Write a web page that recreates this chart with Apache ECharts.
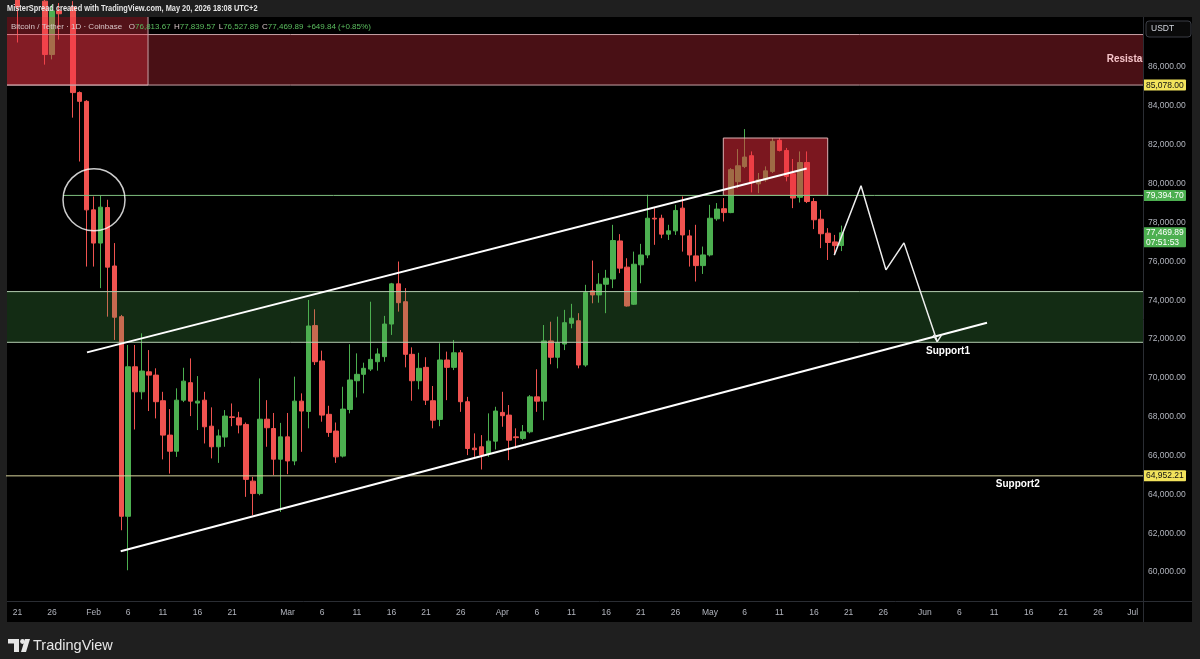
<!DOCTYPE html>
<html><head><meta charset="utf-8">
<script src="https://cdn.jsdelivr.net/npm/echarts@6/dist/echarts.min.js"></script>
<style>html,body{margin:0;padding:0;background:#1e1e1e;}#c{width:1200px;height:659px;}</style>
</head><body><div id="c"></div>
<script>
// ---------- DATA ----------
const axisStart = '2026-01-20';
const axisEnd = '2026-07-02';
const monthNames = ['Jan','Feb','Mar','Apr','May','Jun','Jul'];
const tickDays = [1, 6, 11, 16, 21, 26];
const yTicks = [60000,62000,64000,66000,68000,70000,72000,74000,76000,78000,80000,82000,84000,86000];

// [date(MM-DD), open, high, low, close]
const candles = [
 ['01-21',89500,89900,87270,89100],['01-22',89100,90200,88800,89700],['01-23',89700,90100,88900,89300],
 ['01-24',89300,89800,88800,89400],['01-25',89400,89700,86130,86650],['01-26',86650,89200,86400,88900],
 ['01-27',88900,89300,87420,88750],['01-28',88750,89400,88650,89100],['01-29',89100,89400,83400,84690],
 ['01-30',84690,84750,81140,84240],['01-31',84240,84300,75730,78650],
 ['02-01',78650,79340,75730,76940],['02-02',76940,79390,74620,78790],['02-03',78770,79170,73150,75700],
 ['02-04',75760,76940,71950,73120],['02-05',73150,73240,62150,62870],['02-06',62870,71690,60090,70570],
 ['02-07',70570,71690,67340,69280],['02-08',69280,72290,68890,70350],['02-09',70310,71430,68290,70140],
 ['02-10',70140,70490,67910,68770],['02-11',68820,69280,65800,67050],['02-12',67050,68390,65070,66220],
 ['02-13',66220,69460,65930,68850],['02-14',68850,70520,68750,69830],['02-15',69750,71000,68030,68800],
 ['02-16',68700,70090,67310,68800],['02-17',68850,69280,66620,67480],['02-18',67510,68480,65850,66450],
 ['02-19',66450,67340,65620,67010],['02-20',66950,68340,66450,68030],['02-21',67990,68680,67510,67960],
 ['02-22',67940,68250,67140,67570],['02-23',67600,67700,63870,64770],['02-24',64680,64900,62920,64040],
 ['02-25',64040,69970,63950,67870],['02-26',67870,68850,66450,67430],['02-27',67390,68190,64990,65810],
 ['02-28',65810,67680,63090,66960],
 ['03-01',66960,68190,65040,65720],['03-02',65720,70060,65500,68800],['03-03',68800,69200,66190,68290],
 ['03-04',68270,74010,67400,72670],['03-05',72690,73530,70660,70830],['03-06',70870,71400,67740,68080],
 ['03-07',68120,68560,66960,67190],['03-08',67260,67700,65620,65930],['03-09',65970,69540,65900,68390],
 ['03-10',68370,71730,68170,69890],['03-11',69850,71260,68990,70180],['03-12',70180,70780,69200,70490],
 ['03-13',70450,73920,70350,70950],['03-14',70830,71520,70370,71230],['03-15',71090,73190,70830,72770],
 ['03-16',72770,74890,72210,74840],['03-17',74840,75990,73410,73870],['03-18',73920,74620,70540,71210],
 ['03-19',71210,71570,68820,69850],['03-20',69850,71290,69410,70490],['03-21',70540,71060,68600,68850],
 ['03-22',68820,69580,67400,67820],['03-23',67860,71780,67510,70920],['03-24',70920,71350,68850,70540],
 ['03-25',70540,71950,70400,71290],['03-26',71290,71430,68250,68770],['03-27',68770,69020,66020,66360],
 ['03-28',66380,67140,65930,66300],['03-29',66450,67050,65280,66020],['03-30',66100,68170,65930,66740],
 ['03-31',66740,68510,66310,68290],
 ['04-01',68220,69280,67480,68050],['04-02',68080,68600,65760,66790],['04-03',66960,67400,66360,66920],
 ['04-04',66880,67570,66790,67220],['04-05',67220,69110,67140,69020],['04-06',69020,70440,68250,68800],
 ['04-07',68800,72720,67820,71900],['04-08',71900,72890,70700,71060],['04-09',71060,73150,70490,71810],
 ['04-10',71740,73500,71430,72840],['04-11',72810,73810,72550,73070],['04-12',72940,73330,70490,70660],
 ['04-13',70660,74790,70570,74390],['04-14',74480,76040,73840,74270],['04-15',74270,75390,73870,74820],
 ['04-16',74820,75560,73330,75130],['04-17',75090,77880,74620,77070],['04-18',77050,77400,75390,75650],
 ['04-19',75700,76160,73670,73700],['04-20',73790,76500,73750,75850],['04-21',75820,76900,74870,76330],
 ['04-22',76330,79430,76160,78220],['04-23',78220,78740,76850,78180],['04-24',78220,78400,77190,77400],
 ['04-25',77400,77880,77100,77570],['04-26',77570,78910,77360,78620],['04-27',78740,79340,76500,77360],
 ['04-28',77310,77620,75730,76330],['04-29',76280,77880,74960,75780],['04-30',75780,76760,75350,76330],
 ['05-01',76330,78910,76250,78220],['05-02',78190,79000,78090,78690],['05-03',78710,79260,78050,78510],
 ['05-04',78510,80800,78480,80720],['05-05',80100,81780,79770,80920],['05-06',80880,82810,80800,81370],
 ['05-07',81440,81660,79550,80060],['05-08',79990,80550,79510,80200],['05-09',80200,80890,80100,80660],
 ['05-10',80630,82350,80550,82180],['05-11',82230,82350,81660,81710],['05-12',81710,81840,80120,80370],
 ['05-13',80510,81270,78740,79260],['05-14',79300,81660,79030,81090],['05-15',81090,81660,79000,79080],
 ['05-16',79080,79260,77660,78140],['05-17',78170,78650,76680,77420],['05-18',77450,77710,76070,76970],
 ['05-19',77000,77360,76330,76810],['05-20',76813.67,77839.57,76527.89,77469.89]
];

// annotations in [day index (0 = Jan 20), price]
const upperChannel = [[11.05, 71310], [114.95, 80780]];
const lowerChannel = [[15.91, 61070], [140.98, 72840]];
const forecastPath = [[118.93, 76320], [122.79, 79890], [126.39, 75560], [128.99, 76950], [133.80, 71860]];
const arrowHead = [[133.22, 72210], [133.80, 71860], [134.43, 72210]];
const circleMark = [12.06, 79170];
const resistanceZone = [85078.00, 87680];
const supportZone = [71830, 74440];
const leftRedBox = [-5, 19.86, 85078.00, 90000];
const mayBox = [102.91, 117.98, 79394.70, 82350];
const level1 = 79394.70, level1Start = 7.58;
const level2 = 64952.21;
const textLabels = [['Support1', 135.35, 71380], ['Support2', 145.42, 64520], ['Resistance', 158.26, 86420]];
const lastPrice = 77469.89, countdown = '07:51:53';
const tagValues = [85078.00, 79394.70, lastPrice, 64952.21];

// ---------- BUILD ----------
const categories = [];
{
  const d = new Date(axisStart + 'T00:00:00Z'), e = new Date(axisEnd + 'T00:00:00Z');
  while (d <= e) { categories.push(d.toISOString().slice(0, 10)); d.setUTCDate(d.getUTCDate() + 1); }
}
const N = categories.length;
const cMap = {};
candles.forEach(r => { cMap['2026-' + r[0]] = [r[1], r[4], r[3], r[2]]; });
const candleData = categories.map(c => cMap[c] || '-');
const fmt = v => v.toLocaleString('en-US', {minimumFractionDigits: 2, maximumFractionDigits: 2});
const daysInMonth = (y, m) => new Date(Date.UTC(y, m, 0)).getUTCDate();
const showTick = v => {
  const y = +v.slice(0, 4), m = +v.slice(5, 7), day = +v.slice(8, 10);
  if (tickDays.indexOf(day) < 0) return false;
  if (day !== 1 && daysInMonth(y, m) - day < 3) return false; // too close to next month label
  return true;
};

const UP = '#4caf50', DOWN = '#f05350';
const XMIN = -0.5, XMAX = N - 0.5;

const zones = [
  [-5, N + 5, resistanceZone[0], resistanceZone[1], 'rgba(242,54,69,0.30)', '#c7a2a6'],
  [leftRedBox[0], leftRedBox[1], leftRedBox[2], leftRedBox[3], 'rgba(242,54,69,0.34)', '#c7a2a6'],
  [-5, N + 5, supportZone[0], supportZone[1], 'rgba(76,175,80,0.25)', '#b4cdb0'],
  [mayBox[0], mayBox[1], mayBox[2], mayBox[3], 'rgba(235,45,60,0.52)', '#dcb2b4']
];

const tagStyles = [
  {bg: '#f2e35c', fg: '#111', text: fmt(tagValues[0])},
  {bg: '#4caf50', fg: '#fff', text: fmt(tagValues[1])},
  {bg: '#4caf50', fg: '#fff', text: fmt(tagValues[2]) + '\n' + countdown},
  {bg: '#f2e35c', fg: '#111', text: fmt(tagValues[3])}
];

const chart = echarts.init(document.getElementById('c'), null, {renderer: 'canvas'});
const FONT = 'Liberation Sans, Arial, sans-serif';
const NARROW = '"Liberation Sans Narrow", "Liberation Sans", Arial, sans-serif';

chart.setOption({
  backgroundColor: '#1f1f1f',
  animation: false,
  grid: {left: 7, right: 57, top: 17, bottom: 58, containLabel: false},
  xAxis: [{
    type: 'category', data: categories, boundaryGap: true,
    axisLine: {show: false}, axisTick: {show: false}, splitLine: {show: false},
    axisLabel: {
      color: '#b2b5be', fontSize: 8.5, fontFamily: FONT, margin: 7,
      interval: (i, v) => showTick(v),
      formatter: v => { const day = +v.slice(8, 10); return day === 1 ? monthNames[+v.slice(5, 7) - 1] : String(day); }
    }
  }, {
    type: 'value', min: XMIN, max: XMAX, show: false
  }],
  yAxis: {
    type: 'value', position: 'right', min: 58507, max: 88583,
    axisLine: {show: false}, axisTick: {show: false}, splitLine: {show: false},
    axisLabel: {customValues: yTicks, formatter: v => fmt(v), color: '#b2b5be', fontSize: 8.5, fontFamily: NARROW, margin: 5}
  },
  graphic: [
    {type: 'rect', z: -10, shape: {x: 7, y: 17, width: 1185, height: 605}, style: {fill: '#000'}},
    {type: 'line', z: 50, shape: {x1: 1143.5, y1: 17, x2: 1143.5, y2: 622}, style: {stroke: '#2a2d33', lineWidth: 1}},
    {type: 'line', z: 50, shape: {x1: 7, y1: 601.5, x2: 1192, y2: 601.5}, style: {stroke: '#2a2d33', lineWidth: 1}},
    {type: 'text', z: 50, x: 7, y: 9, scaleX: 0.87, style: {text: 'MisterSpread created with TradingView.com, May 20, 2026 18:08 UTC+2', fill: '#e6e6e6', font: 'bold 8.5px ' + FONT, verticalAlign: 'middle'}},
    {type: 'text', z: 50, x: 11, y: 27, style: {
      text: '{a|Bitcoin / Tether · 1D · Coinbase}  {l|O}{v|76,813.67} {l|H}{v|77,839.57} {l|L}{v|76,527.89} {l|C}{v|77,469.89} {v|+649.84 (+0.85%)}',
      verticalAlign: 'middle',
      rich: {
        a: {fill: '#d8c6c8', font: '8px ' + FONT},
        l: {fill: '#d8c6c8', font: '8px ' + FONT},
        v: {fill: '#5cbf60', font: '8px ' + FONT}
      }}},
    {type: 'rect', z: 50, shape: {x: 1146, y: 21, width: 45, height: 16, r: 3}, style: {fill: '#0a0a0a', stroke: '#3a3d45', lineWidth: 1}},
    {type: 'text', z: 51, x: 1151, y: 29, style: {text: 'USDT', fill: '#d1d4dc', font: '8.5px ' + FONT, verticalAlign: 'middle'}},
    {type: 'polygon', z: 50, shape: {points: [[8, 639], [19, 639], [19, 652], [14, 652], [14, 643.5], [8, 643.5]]}, style: {fill: '#e6e6e6'}},
    {type: 'circle', z: 50, shape: {cx: 22.5, cy: 641.5, r: 2.4}, style: {fill: '#e6e6e6'}},
    {type: 'polygon', z: 50, shape: {points: [[25, 639], [30, 639], [26, 652], [21, 652]]}, style: {fill: '#e6e6e6'}},
    {type: 'text', z: 50, x: 33, y: 645.5, style: {text: 'TradingView', fill: '#e6e6e6', font: '14.5px ' + FONT, verticalAlign: 'middle'}}
  ],
  series: [
    {
      type: 'candlestick', name: 'BTCUSDT', xAxisIndex: 0, yAxisIndex: 0, z: 2, clip: true,
      data: candleData, barWidth: 5,
      itemStyle: {color: UP, color0: DOWN, borderColor: UP, borderColor0: DOWN, borderWidth: 1}
    },
    {
      type: 'custom', name: 'zones', xAxisIndex: 1, yAxisIndex: 0, z: 5, clip: true, silent: true,
      data: zones.map(z => [z[0], z[1], z[2], z[3]]),
      renderItem: (p, api) => {
        const z = zones[p.dataIndex];
        const a = api.coord([api.value(0), api.value(3)]);
        const b = api.coord([api.value(1), api.value(2)]);
        return {type: 'rect', shape: {x: a[0], y: a[1], width: b[0] - a[0], height: b[1] - a[1]},
                style: {fill: z[4], stroke: z[5], lineWidth: 1}};
      }
    },
    {type: 'line', name: 'level1', xAxisIndex: 1, z: 6, clip: true, symbol: 'none', silent: true,
     data: [[level1Start, level1], [N + 5, level1]], lineStyle: {color: '#7fbf7f', width: 1}},
    {type: 'line', name: 'level2', xAxisIndex: 1, z: 6, clip: true, symbol: 'none', silent: true,
     data: [[-5, level2], [N + 5, level2]], lineStyle: {color: '#d8d49c', width: 1}},
    {type: 'line', name: 'upper', xAxisIndex: 1, z: 7, clip: true, symbol: 'none', silent: true,
     data: upperChannel, lineStyle: {color: '#ffffff', width: 2}},
    {type: 'line', name: 'lower', xAxisIndex: 1, z: 7, clip: true, symbol: 'none', silent: true,
     data: lowerChannel, lineStyle: {color: '#ffffff', width: 2}},
    {type: 'line', name: 'forecast', xAxisIndex: 1, z: 7, clip: true, symbol: 'none', silent: true,
     data: forecastPath, lineStyle: {color: '#eeeeee', width: 1.5}},
    {type: 'line', name: 'arrow', xAxisIndex: 1, z: 7, clip: true, symbol: 'none', silent: true,
     data: arrowHead, lineStyle: {color: '#eeeeee', width: 1.5}},
    {type: 'scatter', name: 'circle', xAxisIndex: 1, z: 8, silent: true, symbol: 'circle', symbolSize: 62,
     data: [circleMark], itemStyle: {color: 'rgba(0,0,0,0)', borderColor: '#ffffff', borderWidth: 1.5}},
    {
      type: 'custom', name: 'labels', xAxisIndex: 1, z: 9, clip: true, silent: true,
      data: textLabels.map(t => [t[1], t[2]]),
      renderItem: (p, api) => {
        const t = textLabels[p.dataIndex];
        const c = api.coord([api.value(0), api.value(1)]);
        const isRes = t[0] === 'Resistance';
        return {type: 'text', x: c[0], y: c[1], style: {text: t[0], fill: isRes ? '#f6c4c9' : '#ffffff',
          font: 'bold 10px ' + FONT, align: isRes ? 'left' : 'center', verticalAlign: 'middle'}};
      }
    },
    {
      type: 'custom', name: 'tags', xAxisIndex: 1, z: 20, clip: false, silent: true,
      data: tagValues.map(v => [XMAX, v]),
      renderItem: (p, api) => {
        const s = tagStyles[p.dataIndex];
        const c = api.coord([api.value(0), api.value(1)]);
        const two = s.text.indexOf('\n') >= 0;
        const h = two ? 20 : 11;
        return {type: 'group', children: [
          {type: 'rect', shape: {x: c[0], y: c[1] - 5.5, width: 43, height: h, r: 1}, style: {fill: s.bg}},
          {type: 'text', x: c[0] + 3, y: c[1] - 4.5, style: {text: s.text, fill: s.fg, font: '8.5px ' + NARROW, verticalAlign: 'top', lineHeight: 9.5}}
        ]};
      }
    }
  ]
});
</script>
</body></html>
